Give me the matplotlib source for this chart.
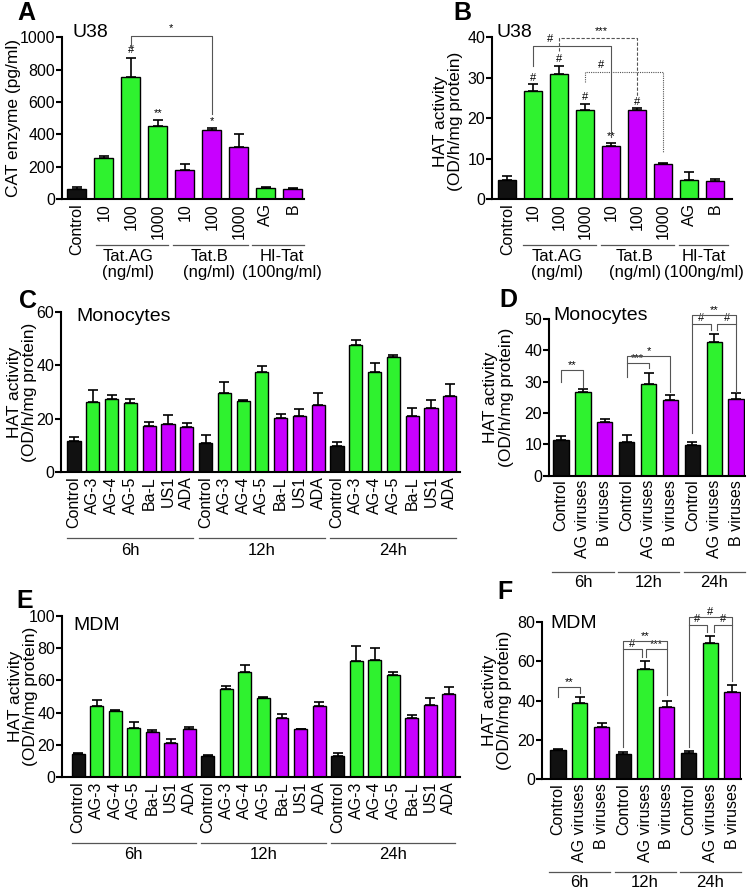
import numpy as np
import matplotlib
matplotlib.use("Agg")
import matplotlib.pyplot as plt
from matplotlib.transforms import blended_transform_factory

plt.rcParams['font.family'] = ['Liberation Sans', 'DejaVu Sans']

GREEN = "#2ff22f"; PURPLE = "#c800ff"; BLACK = "#111111"; LINE = "#555555"
COLS = {"c": BLACK, "g": GREEN, "p": PURPLE}

# ---- data ----
A_labels = ["Control", "10", "100", "1000", "10", "100", "1000", "AG", "B"]
A_kinds = ["c", "g", "g", "g", "p", "p", "p", "g", "p"]
A_vals = [60, 255, 755, 455, 180, 428, 320, 68, 63]
A_tops = [78, 265, 875, 490, 215, 440, 405, 75, 70]

B_labels = A_labels
B_kinds = A_kinds
B_vals = [4.7, 26.8, 31.0, 22.0, 13.2, 22.0, 8.7, 4.7, 4.5]
B_tops = [5.7, 28.5, 33.0, 23.6, 14.0, 22.6, 8.9, 6.6, 4.9]

U_groups = ["Tat.AG\n(ng/ml)", "Tat.B\n(ng/ml)", "HI-Tat\n(100ng/ml)"]

strains = ["Control", "AG-3", "AG-4", "AG-5", "Ba-L", "US1", "ADA"]
strain_kinds = ["c", "g", "g", "g", "p", "p", "p"]
times = ["6h", "12h", "24h"]

C_vals = [11.7, 26.4, 27.4, 25.9, 17.1, 18.1, 16.8,
          11.0, 29.5, 26.6, 37.6, 20.4, 20.9, 25.0,
          9.7, 47.6, 37.4, 43.0, 20.9, 24.2, 28.5]
C_tops = [13.3, 30.8, 28.9, 27.3, 18.6, 21.4, 18.3,
          13.9, 33.6, 27.1, 39.7, 21.8, 23.8, 29.5,
          11.2, 49.4, 41.0, 43.8, 24.2, 27.1, 33.0]

E_vals = [14.5, 43.9, 40.8, 30.4, 28.0, 21.3, 29.8,
          12.8, 54.9, 65.2, 48.9, 36.4, 29.6, 43.9,
          13.0, 72.0, 72.9, 63.4, 36.9, 44.5, 51.8]
E_tops = [15.1, 47.6, 41.8, 34.2, 29.0, 23.8, 31.1,
          13.9, 56.5, 69.8, 49.7, 39.3, 30.0, 46.4,
          14.9, 81.4, 79.9, 65.4, 38.3, 48.9, 56.1]

pools = ["Control", "AG viruses", "B viruses"]
pool_kinds = ["c", "g", "p"]
D_vals = [11.4, 26.6, 17.2, 10.9, 29.3, 24.1, 9.7, 42.8, 24.5]
D_tops = [12.8, 27.6, 18.2, 13.0, 32.9, 25.8, 10.6, 45.1, 26.5]
F_vals = [14.6, 38.6, 26.7, 12.9, 56.3, 36.9, 13.1, 69.3, 44.6]
F_tops = [15.1, 41.9, 28.8, 13.8, 59.9, 39.8, 14.5, 72.7, 48.0]

YLAB2 = "HAT activity\n(OD/h/mg protein)"


def bars(ax, vals, tops, kinds, labels, xlim, ylim, yticks):
    x = np.arange(len(vals))
    vals = np.array(vals); tops = np.array(tops)
    ax.bar(x, vals, width=0.7, color=[COLS[k] for k in kinds],
           edgecolor="black", linewidth=1.0, zorder=2)
    ax.errorbar(x, vals, yerr=[np.zeros(len(x)), tops - vals], fmt="none",
                ecolor="black", elinewidth=1.2, capsize=3.5, capthick=1.2, zorder=1)
    ax.set_xticks(x)
    ax.set_xticklabels(labels, rotation=90, fontsize=11.5)
    ax.set_xlim(*xlim); ax.set_ylim(*ylim)
    ax.set_yticks(yticks)
    ax.tick_params(axis="y", labelsize=11.5, width=1.5, length=4, pad=1)
    ax.tick_params(axis="x", length=0, pad=3)
    for s in ["top", "right"]:
        ax.spines[s].set_visible(False)
    for s in ["left", "bottom"]:
        ax.spines[s].set_linewidth(1.5)


def bracket(ax, x1, x2, y, yl, yr, text=None, tx=None, ty=None, ls="-", fs=8):
    ax.plot([x1, x1, x2, x2], [yl, y, y, yr], color=LINE, lw=0.8, ls=ls,
            clip_on=False, zorder=4)
    if text:
        ax.text((x1 + x2) / 2 if tx is None else tx, y if ty is None else ty, text,
                ha="center", va="bottom", fontsize=fs, clip_on=False)


def mark(ax, i, y, text, fs=8):
    ax.text(i, y, text, ha="center", va="bottom", fontsize=fs)


def groups(ax, spans, names, line_y, text_y, text_x=None, fs=12):
    tr = blended_transform_factory(ax.transData, ax.transAxes)
    for k, ((a, b), name) in enumerate(zip(spans, names)):
        ax.plot([a, b], [line_y, line_y], transform=tr, color=LINE, lw=0.9, clip_on=False)
        cx = (a + b) / 2 if text_x is None else text_x[k]
        ax.text(cx, text_y, name, transform=tr, ha="center", va="top",
                fontsize=fs, linespacing=1.1)


fig = plt.figure(figsize=(7.48, 8.89), dpi=100)

# ---- A ----
axA = fig.add_axes([0.083, 0.776, 0.323, 0.182])
bars(axA, A_vals, A_tops, A_kinds, A_labels, (-0.55, 8.4), (0, 1000), range(0, 1001, 200))
axA.set_ylabel("CAT enzyme (pg/ml)", fontsize=12.5)
axA.yaxis.set_label_coords(-0.17, 0.5)
axA.text(0.045, 1.03, "U38", transform=axA.transAxes, fontsize=14, va="center")
mark(axA, 2, A_tops[2] + 15, "#")
mark(axA, 3, A_tops[3] + 12, "**")
mark(axA, 5, A_tops[5] + 12, "*")
bracket(axA, 2, 5, 1010, 932, 528, "*", ty=1025)
groups(axA, [(0.7, 3.37), (3.55, 6.35), (6.5, 8.4)], U_groups, -0.284, -0.31,
       text_x=[1.9, 4.9, 7.6])

# ---- B ----
axB = fig.add_axes([0.658, 0.776, 0.321, 0.182])
bars(axB, B_vals, B_tops, B_kinds, B_labels, (-0.58, 8.65), (0, 40), range(0, 41, 10))
axB.set_ylabel(YLAB2, fontsize=12.5, linespacing=1.05)
axB.yaxis.set_label_coords(-0.12, 0.48)
axB.text(0.02, 1.03, "U38", transform=axB.transAxes, fontsize=14, va="center")
for i in [1, 2, 3, 5]:
    mark(axB, i, B_tops[i] + 0.3, "#")
mark(axB, 4, B_tops[4] + 0.3, "**")
bracket(axB, 1, 4, 37.9, 33.0, 15.4)
axB.text(1.65, 38.3, "#", ha="center", va="bottom", fontsize=8)
bracket(axB, 2, 5, 39.75, 36.7, 25.2, ls=(0, (3, 1.5)))
axB.text(3.6, 40.2, "***", ha="center", va="bottom", fontsize=8)
bracket(axB, 3, 6, 31.5, 28.9, 11.7, ls=(0, (1, 1)))
axB.text(3.6, 32.0, "#", ha="center", va="bottom", fontsize=8)
groups(axB, [(0.6, 3.4), (3.6, 6.4), (6.6, 8.5)], U_groups, -0.284, -0.31,
       text_x=[1.9, 4.9, 7.55])

# ---- C ----
axC = fig.add_axes([0.0816, 0.469, 0.533, 0.180])
bars(axC, C_vals, C_tops, strain_kinds * 3, strains * 3, (-0.69, 20.53), (0, 60), range(0, 61, 20))
axC.set_ylabel(YLAB2, fontsize=12.5, linespacing=1.05)
axC.yaxis.set_label_coords(-0.06, 0.5)
axC.text(0.038, 0.97, "Monocytes", transform=axC.transAxes, fontsize=14, va="center")
groups(axC, [(-0.35, 6.35), (6.65, 13.35), (13.65, 20.35)], times, -0.41, -0.445)

# ---- D ----
axD = fig.add_axes([0.734, 0.465, 0.262, 0.176])
bars(axD, D_vals, D_tops, pool_kinds * 3, pools * 3, (-0.55, 8.41), (0, 50), range(0, 51, 10))
axD.set_ylabel(YLAB2, fontsize=12.5, linespacing=1.05)
axD.yaxis.set_label_coords(-0.18, 0.5)
axD.text(0.02, 1.025, "Monocytes", transform=axD.transAxes, fontsize=14, va="center")
bracket(axD, 0, 1, 33.7, 30.0, 28.4, "**")
bracket(axD, 3, 5, 38.2, 31.5, 26.8, "*")
bracket(axD, 3, 4, 35.9, 35.9, 34.3, "***")
bracket(axD, 6, 8, 51.3, 13.5, 48.6, "**")
bracket(axD, 6, 6.85, 48.6, 48.6, 46.5, "#", tx=6.4, ty=48.9)
bracket(axD, 7.15, 8, 48.6, 46.5, 26.8, "#", tx=7.6, ty=48.9)
groups(axD, [(-0.4, 2.4), (2.6, 5.4), (5.6, 8.4)], times, -0.613, -0.635)

# ---- E ----
axE = fig.add_axes([0.083, 0.126, 0.532, 0.181])
bars(axE, E_vals, E_tops, strain_kinds * 3, strains * 3, (-0.86, 20.6), (0, 100), range(0, 101, 20))
axE.set_ylabel(YLAB2, fontsize=12.5, linespacing=1.05)
axE.yaxis.set_label_coords(-0.06, 0.5)
axE.text(0.028, 0.94, "MDM", transform=axE.transAxes, fontsize=14, va="center")
groups(axE, [(-0.35, 6.35), (6.65, 13.35), (13.65, 20.35)], times, -0.41, -0.435)

# ---- F ----
axF = fig.add_axes([0.7246, 0.1237, 0.266, 0.1766])
bars(axF, F_vals, F_tops, pool_kinds * 3, pools * 3, (-0.74, 8.41), (0, 80), range(0, 81, 20))
axF.set_ylabel(YLAB2, fontsize=12.5, linespacing=1.05)
axF.yaxis.set_label_coords(-0.15, 0.5)
axF.text(0.04, 0.99, "MDM", transform=axF.transAxes, fontsize=14, va="center")
bracket(axF, 0, 1, 46.8, 42.0, 43.7, "**")
bracket(axF, 3, 5, 70.5, 16.5, 66.1, "**")
bracket(axF, 3, 3.85, 66.1, 66.1, 62.3, "#", tx=3.4, ty=66.4)
bracket(axF, 4.05, 5, 66.1, 62.3, 42.9, "***", tx=4.5, ty=66.4)
bracket(axF, 6, 8, 82.7, 16.5, 78.5, "#")
bracket(axF, 6, 6.85, 78.5, 78.5, 75.1, "#", tx=6.4, ty=78.8)
bracket(axF, 7.15, 8, 78.5, 75.1, 50.2, "#", tx=7.6, ty=78.8)
groups(axF, [(-0.4, 2.4), (2.6, 5.4), (5.6, 8.4)], times, -0.59, -0.61)

# ---- panel letters ----
for letter, px, py in [("A", 26, 13), ("B", 462, 13), ("C", 28, 301),
                       ("D", 508, 300), ("E", 25, 601), ("F", 505, 592)]:
    fig.text(px / 748, 1 - py / 889, letter, fontsize=18, fontweight="bold",
             ha="center", va="center")

fig.savefig("out.png", dpi=100)
